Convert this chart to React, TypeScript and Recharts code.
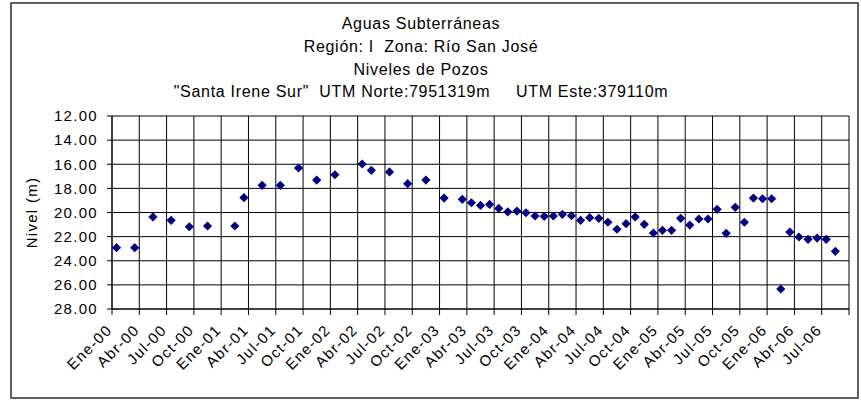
import React from "react";
import {
  ScatterChart,
  Scatter,
  XAxis,
  YAxis,
  CartesianGrid,
} from "recharts";

// Months elapsed since January 2000 for each measurement
const months = [
  0.5, 2.5, 4.5, 6.5, 8.5, 10.5, 13.5, 14.5, 16.5, 18.5, 20.5, 22.5, 24.5,
  27.5, 28.5, 30.5, 32.5, 34.5, 36.5, 38.5, 39.5, 40.5, 41.5, 42.5, 43.5,
  44.5, 45.5, 46.5, 47.5, 48.5, 49.5, 50.5, 51.5, 52.5, 53.5, 54.5, 55.5,
  56.5, 57.5, 58.5, 59.5, 60.5, 61.5, 62.5, 63.5, 64.5, 65.5, 66.5, 67.5,
  68.5, 69.5, 70.5, 71.5, 72.5, 73.5, 74.5, 75.5, 76.5, 77.5, 78.5, 79.5,
];

// Water level (m)
const levels = [
  22.92, 22.92, 20.37, 20.65, 21.18, 21.12, 21.12, 18.77, 17.75, 17.75, 16.31,
  17.31, 16.87, 15.98, 16.5, 16.64, 17.61, 17.31, 18.8, 18.91, 19.19, 19.41,
  19.33, 19.66, 19.94, 19.88, 20.02, 20.29, 20.32, 20.29, 20.15, 20.27, 20.65,
  20.43, 20.48, 20.81, 21.39, 20.93, 20.37, 20.98, 21.7, 21.48, 21.48, 20.48,
  21.04, 20.54, 20.54, 19.74, 21.73, 19.57, 20.81, 18.8, 18.86, 18.86, 26.34,
  21.62, 22.03, 22.22, 22.12, 22.22, 23.22,
];

const tickLabels = [
  "Ene-00", "Abr-00", "Jul-00", "Oct-00",
  "Ene-01", "Abr-01", "Jul-01", "Oct-01",
  "Ene-02", "Abr-02", "Jul-02", "Oct-02",
  "Ene-03", "Abr-03", "Jul-03", "Oct-03",
  "Ene-04", "Abr-04", "Jul-04", "Oct-04",
  "Ene-05", "Abr-05", "Jul-05", "Oct-05",
  "Ene-06", "Abr-06", "Jul-06", "",
];

const yTicks = [12, 14, 16, 18, 20, 22, 24, 26, 28];

const titleLines = [
  "Aguas Subterráneas",
  "Región: I  Zona: Río San José",
  "Niveles de Pozos",
  "\"Santa Irene Sur\"  UTM Norte:7951319m     UTM Este:379110m",
];

const FONT = "'Liberation Sans', Arial, Helvetica, sans-serif";

const data = months.map((m, i) => ({ x: m, y: levels[i] }));
const xTicks = tickLabels.map((_, i) => i * 3);

const Diamond = (props: any) => {
  const { cx, cy } = props;
  const r = 4.6;
  return (
    <polygon
      points={`${cx},${cy - r} ${cx + r},${cy} ${cx},${cy + r} ${cx - r},${cy}`}
      fill="#000080"
      stroke="none"
    />
  );
};

const XTick = (props: any) => {
  const { x, payload } = props;
  const idx = Math.round(payload.value / 3);
  const label = tickLabels[idx] || "";
  const px = x + 1;
  const py = 331;
  return (
    <text
      x={px}
      y={py}
      transform={`rotate(-45, ${px}, ${py})`}
      textAnchor="end"
      fontFamily={FONT}
      fontSize={15}
      letterSpacing={1.3}
      fill="#000"
    >
      {label}
    </text>
  );
};

const titleBaselines = [28.5, 52, 75, 97];

export default function App() {
  return (
    <div
      style={{
        position: "absolute",
        left: 0,
        top: 0,
        width: 861,
        height: 400,
        background: "#fff",
      }}
    >
      <ScatterChart
        width={861}
        height={400}
        margin={{ top: 116, right: 12, bottom: 31, left: 52 }}
      >
        <CartesianGrid stroke="#000" strokeWidth={1} />
        <XAxis
          type="number"
          dataKey="x"
          domain={[0, 81]}
          ticks={xTicks}
          interval={0}
          height={60}
          axisLine={{ stroke: "#000" }}
          tickLine={{ stroke: "#000" }}
          tickSize={6}
          tick={<XTick />}
        />
        <YAxis
          type="number"
          dataKey="y"
          domain={[12, 28]}
          ticks={yTicks}
          reversed
          interval={0}
          width={60}
          axisLine={{ stroke: "#000" }}
          tickLine={{ stroke: "#000" }}
          tickSize={5}
          tickMargin={9}
          tickFormatter={(v: number) => v.toFixed(2)}
          tick={{
            fill: "#000",
            fontSize: 15,
            fontFamily: FONT,
            letterSpacing: 1.3,
          }}
        />
        <Scatter
          data={data}
          isAnimationActive={false}
          shape={(p: any) => <Diamond {...p} />}
        />
      </ScatterChart>
      <svg
        width={861}
        height={400}
        style={{ position: "absolute", left: 0, top: 0, pointerEvents: "none" }}
      >
        <rect
          x={11}
          y={3}
          width={847}
          height={395}
          fill="none"
          stroke="#3a3a3a"
          strokeWidth={1.6}
        />
        {titleLines.map((t, i) => (
          <text
            key={i}
            x={421}
            y={titleBaselines[i]}
            textAnchor="middle"
            fontFamily={FONT}
            fontSize={16}
            letterSpacing={0.7}
            fill="#000"
            style={{ whiteSpace: "pre" }}
          >
            {t}
          </text>
        ))}
        <text
          x={0}
          y={0}
          transform="translate(37, 212.5) rotate(-90)"
          textAnchor="middle"
          fontFamily={FONT}
          fontSize={15}
          letterSpacing={1.3}
          fill="#000"
        >
          Nivel (m)
        </text>
      </svg>
    </div>
  );
}
